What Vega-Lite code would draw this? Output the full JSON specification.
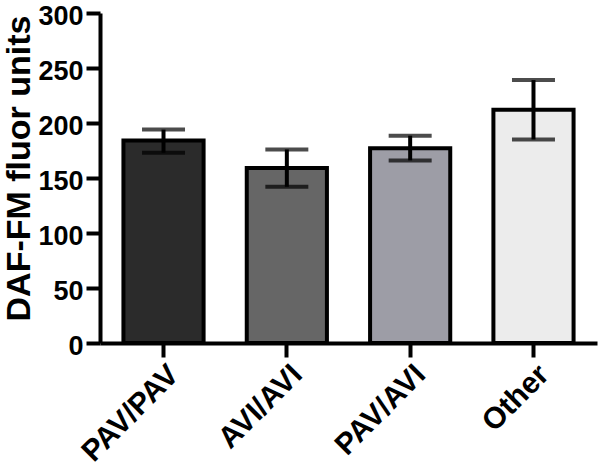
{
  "$schema": "https://vega.github.io/schema/vega-lite/v6.json",
  "autosize": "none",
  "width": 497,
  "height": 330,
  "padding": {"left": 100, "top": 13, "right": 3, "bottom": 132},
  "background": "white",
  "config": {
    "view": {"stroke": null},
    "font": "Liberation Sans",
    "axis": {
      "domainColor": "black",
      "domainWidth": 4,
      "tickColor": "black",
      "tickWidth": 4,
      "tickSize": 14,
      "grid": false,
      "labelFont": "Liberation Sans",
      "labelFontWeight": "bold",
      "labelColor": "black",
      "titleFont": "Liberation Sans",
      "titleFontWeight": "bold",
      "titleColor": "black"
    }
  },
  "data": {
    "values": [
      {"group": "PAV/PAV", "mean": 184, "lo": 173, "hi": 194},
      {"group": "AVI/AVI", "mean": 159, "lo": 142, "hi": 176},
      {"group": "PAV/AVI", "mean": 177, "lo": 166, "hi": 188.5},
      {"group": "Other", "mean": 212, "lo": 185, "hi": 239}
    ]
  },
  "encoding": {
    "x": {
      "field": "group",
      "type": "nominal",
      "sort": ["PAV/PAV", "AVI/AVI", "PAV/AVI", "Other"],
      "scale": {"paddingInner": 0.35, "paddingOuter": 0.19},
      "axis": {
        "title": null,
        "labelAngle": -45,
        "labelFontSize": 30,
        "labelPadding": 2
      }
    }
  },
  "layer": [
    {
      "mark": {"type": "bar", "stroke": "black", "strokeWidth": 4},
      "encoding": {
        "y": {
          "field": "mean",
          "type": "quantitative",
          "scale": {"domain": [0, 300], "nice": false},
          "axis": {
            "title": "DAF-FM fluor units",
            "titleFontSize": 34,
            "titleAngle": 270,
            "titleX": -98,
            "titleY": 155,
            "titleAlign": "center",
            "titleBaseline": "top",
            "labelFontSize": 27,
            "labelPadding": 3,
            "labelOffset": 3,
            "values": [0, 50, 100, 150, 200, 250, 300]
          }
        },
        "fill": {
          "field": "group",
          "type": "nominal",
          "scale": {
            "domain": ["PAV/PAV", "AVI/AVI", "PAV/AVI", "Other"],
            "range": ["#2b2b2b", "#666666", "#9d9da6", "#ececec"]
          },
          "legend": null
        }
      }
    },
    {
      "mark": {"type": "rule", "color": "black", "strokeWidth": 4},
      "encoding": {
        "y": {"field": "lo", "type": "quantitative"},
        "y2": {"field": "hi"}
      }
    },
    {
      "mark": {"type": "tick", "color": "black", "thickness": 4, "size": 43},
      "encoding": {"y": {"field": "lo", "type": "quantitative"}}
    },
    {
      "mark": {"type": "tick", "color": "black", "thickness": 4, "size": 43},
      "encoding": {"y": {"field": "hi", "type": "quantitative"}}
    }
  ]
}
